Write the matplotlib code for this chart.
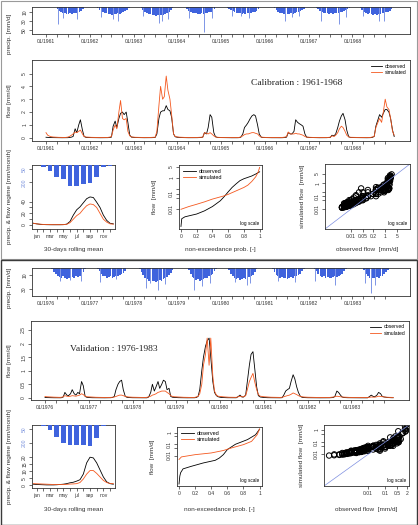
import numpy as np
import pandas as pd
import matplotlib
matplotlib.use('Agg')
import matplotlib.pyplot as plt
import matplotlib.dates as mdates
from matplotlib.patches import Rectangle

plt.rcParams['font.family'] = ['Liberation Sans', 'DejaVu Sans']

# ---------------- data ----------------
# semi-monthly flows [mm/d], 24 values per year (1st and 15th of each month)
q_obs_cal = [
    0.04, 0.03, 0.02, 0.015, 0.012, 0.01, 0.008, 0.006, 0.005, 0.004, 0.004, 0.005, 0.008, 0.02, 0.05, 0.1, 0.7, 0.4, 1.0, 1.4, 0.6, 0.1, 0.03, 0.02,  # 1961
    0.015, 0.012, 0.01, 0.008, 0.006, 0.005, 0.004, 0.004, 0.005, 0.006, 0.01, 0.02, 0.05, 0.9, 1.3, 0.8, 1.5, 1.9, 2.0, 1.8, 2.0, 1.2, 0.2, 0.05,  # 1962
    0.03, 0.02, 0.015, 0.012, 0.01, 0.008, 0.006, 0.005, 0.005, 0.006, 0.01, 0.015, 0.03, 0.3, 1.5, 2.0, 2.1, 2.1, 2.5, 2.2, 2.1, 1.6, 0.3, 0.08,  # 1963
    0.04, 0.03, 0.02, 0.015, 0.01, 0.008, 0.006, 0.005, 0.004, 0.004, 0.005, 0.008, 0.01, 0.02, 0.05, 0.4, 0.3, 0.8, 1.8, 1.6, 0.4, 0.08, 0.03, 0.02,  # 1964
    0.015, 0.012, 0.01, 0.008, 0.006, 0.005, 0.004, 0.003, 0.003, 0.004, 0.01, 0.05, 0.3, 0.8, 1.0, 1.2, 1.5, 1.7, 1.8, 1.7, 1.0, 0.3, 0.05, 0.02,  # 1965
    0.015, 0.01, 0.008, 0.006, 0.005, 0.004, 0.003, 0.003, 0.003, 0.004, 0.008, 0.02, 0.05, 0.4, 0.3, 0.3, 0.5, 1.4, 1.2, 1.1, 1.0, 0.9, 0.3, 0.05,  # 1966
    0.03, 0.02, 0.015, 0.01, 0.008, 0.006, 0.005, 0.004, 0.004, 0.005, 0.008, 0.015, 0.03, 0.2, 0.15, 0.3, 0.8, 1.3, 1.7, 1.9, 1.4, 0.6, 0.08, 0.03,  # 1967
    0.02, 0.015, 0.012, 0.01, 0.008, 0.006, 0.005, 0.004, 0.004, 0.005, 0.01, 0.03, 0.1, 0.9, 1.4, 1.8, 1.6, 1.9, 2.2, 2.2, 2.0, 1.5, 0.6, 0.1,  # 1968
]
q_sim_cal = [
    0.4, 0.2, 0.12, 0.08, 0.06, 0.05, 0.04, 0.035, 0.03, 0.028, 0.026, 0.03, 0.05, 0.1, 0.2, 0.3, 0.45, 0.4, 0.5, 0.6, 0.3, 0.1, 0.06, 0.05,
    0.04, 0.035, 0.03, 0.028, 0.025, 0.022, 0.02, 0.02, 0.02, 0.022, 0.03, 0.05, 0.1, 0.6, 1.0, 0.7, 2.0, 2.9, 1.5, 1.4, 1.5, 0.5, 0.15, 0.07,
    0.05, 0.04, 0.035, 0.03, 0.028, 0.025, 0.022, 0.02, 0.02, 0.022, 0.03, 0.04, 0.05, 0.5, 2.5, 4.0, 3.0, 3.2, 4.8, 3.7, 3.0, 1.8, 0.3, 0.1,
    0.07, 0.05, 0.04, 0.035, 0.03, 0.025, 0.022, 0.02, 0.018, 0.018, 0.02, 0.025, 0.03, 0.04, 0.05, 0.4, 0.35, 0.3, 0.4, 0.3, 0.15, 0.07, 0.04, 0.03,
    0.025, 0.022, 0.02, 0.018, 0.016, 0.015, 0.014, 0.013, 0.013, 0.015, 0.03, 0.08, 0.15, 0.25, 0.3, 0.3, 0.35, 0.4, 0.4, 0.35, 0.3, 0.15, 0.06, 0.04,
    0.03, 0.025, 0.022, 0.02, 0.018, 0.016, 0.015, 0.014, 0.014, 0.015, 0.03, 0.05, 0.1, 0.45, 0.3, 0.3, 0.3, 0.35, 0.3, 0.3, 0.25, 0.2, 0.1, 0.05,
    0.04, 0.035, 0.03, 0.025, 0.022, 0.02, 0.018, 0.016, 0.015, 0.016, 0.02, 0.03, 0.05, 0.15, 0.1, 0.2, 0.4, 0.7, 0.9, 0.8, 0.5, 0.2, 0.07, 0.04,
    0.035, 0.03, 0.025, 0.022, 0.02, 0.018, 0.016, 0.015, 0.015, 0.016, 0.03, 0.06, 0.1, 0.8, 1.2, 1.5, 1.2, 2.0, 3.0, 2.4, 2.2, 1.5, 0.5, 0.2,
]
q_obs_val = [
    0.01, 0.008, 0.006, 0.005, 0.004, 0.003, 0.002, 0.0015, 0.001, 0.0015, 0.03, 0.2, 0.1, 0.08, 0.15, 0.3, 0.15, 0.1, 0.2, 0.15, 0.6, 0.45, 0.05, 0.02,  # 1976
    0.01, 0.006, 0.004, 0.003, 0.002, 0.0015, 0.001, 0.0008, 0.0006, 0.0005, 0.001, 0.002, 0.004, 0.01, 0.05, 0.3, 0.5, 0.6, 0.65, 0.3, 0.05, 0.02, 0.01, 0.006,  # 1977
    0.004, 0.003, 0.002, 0.0015, 0.001, 0.0008, 0.0006, 0.0005, 0.001, 0.03, 0.2, 0.5, 0.25, 0.4, 0.6, 0.35, 0.5, 0.65, 0.6, 0.3, 0.35, 0.05, 0.02, 0.015,  # 1978
    0.01, 0.006, 0.004, 0.003, 0.002, 0.0015, 0.001, 0.0008, 0.0005, 0.0003, 0.002, 0.01, 0.05, 0.3, 1.0, 1.5, 1.9, 2.1, 2.2, 1.5, 0.6, 0.2, 0.08, 0.04,  # 1979
    0.02, 0.012, 0.008, 0.005, 0.004, 0.003, 0.002, 0.0015, 0.001, 0.002, 0.05, 0.1, 0.03, 0.03, 0.1, 0.6, 1.2, 1.6, 1.7, 1.1, 0.4, 0.08, 0.03, 0.02,  # 1980
    0.012, 0.008, 0.005, 0.004, 0.003, 0.002, 0.0015, 0.001, 0.0008, 0.001, 0.005, 0.1, 0.25, 0.3, 0.35, 0.6, 0.85, 0.7, 0.4, 0.2, 0.05, 0.02, 0.01, 0.006,  # 1981
    0.004, 0.003, 0.002, 0.0015, 0.001, 0.0008, 0.0005, 0.0004, 0.0003, 0.0002, 0.0001, 0.0005, 0.002, 0.005, 0.01, 0.05, 0.25, 0.2, 0.1, 0.03, 0.01, 0.006, 0.004, 0.003,  # 1982
    0.002, 0.0015, 0.001, 0.0008, 0.0006, 0.0004, 0.0003, 0.0002, 0.0001, 0.00005, 0.05, 0.1, 0.05, 0.04, 0.1, 0.2, 0.15, 0.05, 0.03, 0.02, 0.01, 0.006, 0.004, 0.003,  # 1983
]
q_sim_val = [
    0.05, 0.04, 0.035, 0.03, 0.028, 0.025, 0.022, 0.02, 0.018, 0.02, 0.04, 0.08, 0.06, 0.05, 0.06, 0.08, 0.07, 0.06, 0.08, 0.1, 0.15, 0.12, 0.06, 0.04,
    0.035, 0.03, 0.025, 0.022, 0.02, 0.018, 0.016, 0.015, 0.014, 0.013, 0.013, 0.014, 0.016, 0.02, 0.03, 0.05, 0.08, 0.1, 0.1, 0.08, 0.05, 0.04, 0.03, 0.025,
    0.022, 0.02, 0.018, 0.016, 0.015, 0.014, 0.013, 0.012, 0.02, 0.04, 0.06, 0.1, 0.12, 0.15, 0.2, 0.22, 0.25, 0.25, 0.25, 0.2, 0.15, 0.08, 0.05, 0.04,
    0.035, 0.03, 0.025, 0.022, 0.02, 0.018, 0.016, 0.015, 0.014, 0.013, 0.015, 0.03, 0.06, 0.15, 0.5, 1.2, 1.6, 2.2, 1.2, 2.2, 0.8, 0.25, 0.1, 0.06,
    0.05, 0.04, 0.035, 0.03, 0.025, 0.022, 0.02, 0.018, 0.016, 0.018, 0.04, 0.06, 0.04, 0.04, 0.08, 0.3, 0.6, 0.75, 0.9, 0.6, 0.3, 0.12, 0.06, 0.05,
    0.04, 0.035, 0.03, 0.025, 0.022, 0.02, 0.018, 0.016, 0.015, 0.015, 0.02, 0.04, 0.06, 0.08, 0.1, 0.13, 0.18, 0.15, 0.12, 0.08, 0.05, 0.04, 0.03, 0.025,
    0.022, 0.02, 0.018, 0.016, 0.015, 0.014, 0.013, 0.012, 0.011, 0.01, 0.01, 0.011, 0.013, 0.02, 0.03, 0.04, 0.06, 0.05, 0.04, 0.03, 0.025, 0.02, 0.018, 0.016,
    0.015, 0.014, 0.013, 0.012, 0.011, 0.01, 0.0095, 0.009, 0.0085, 0.008, 0.02, 0.03, 0.025, 0.025, 0.04, 0.06, 0.05, 0.04, 0.03, 0.025, 0.02, 0.018, 0.016, 0.015,
]

# semi-monthly typical daily precipitation [mm/d]
p_cal = [
    0, 0, 0, 0, 0, 1, 4, 8, 11, 13, 12, 14, 15, 13, 14, 12, 13, 11, 10, 8, 5, 1, 0, 0,
    0, 0, 0, 0, 2, 6, 9, 11, 13, 12, 14, 15, 16, 14, 15, 13, 14, 12, 11, 9, 6, 2, 0, 0,
    0, 0, 0, 0, 3, 7, 10, 13, 15, 14, 17, 18, 19, 17, 18, 16, 17, 15, 13, 11, 7, 3, 0, 0,
    0, 0, 0, 0, 0, 4, 8, 10, 12, 13, 12, 14, 15, 13, 14, 13, 12, 11, 10, 8, 5, 1, 0, 0,
    0, 0, 1, 3, 5, 7, 9, 11, 12, 13, 12, 14, 13, 14, 12, 13, 12, 11, 10, 8, 5, 1, 0, 0,
    0, 0, 0, 0, 0, 3, 7, 10, 12, 13, 14, 13, 15, 14, 13, 14, 12, 11, 10, 9, 7, 4, 0, 0,
    0, 0, 0, 0, 2, 5, 9, 11, 12, 13, 12, 14, 13, 14, 12, 13, 12, 11, 10, 9, 7, 5, 2, 0,
    0, 0, 0, 0, 2, 6, 10, 12, 14, 13, 15, 16, 15, 16, 14, 15, 13, 12, 11, 10, 8, 4, 0, 0,
]
p_val = [
    0, 0, 0, 2, 6, 9, 11, 13, 14, 12, 15, 16, 14, 15, 13, 14, 12, 13, 11, 9, 6, 2, 0, 0,
    0, 0, 0, 0, 1, 5, 9, 11, 12, 14, 13, 12, 14, 13, 12, 11, 10, 9, 7, 4, 0, 0, 0, 0,
    0, 0, 0, 1, 6, 10, 14, 16, 18, 17, 19, 18, 20, 18, 17, 18, 16, 15, 13, 10, 7, 3, 0, 0,
    0, 0, 0, 0, 0, 0, 3, 9, 13, 15, 17, 16, 18, 17, 16, 15, 14, 12, 10, 8, 5, 1, 0, 0,
    0, 0, 0, 0, 3, 8, 12, 14, 16, 15, 17, 16, 15, 16, 14, 13, 12, 10, 6, 2, 0, 0, 0, 0,
    0, 0, 0, 0, 1, 6, 10, 12, 14, 13, 15, 14, 16, 14, 13, 14, 12, 11, 10, 8, 5, 2, 0, 0,
    0, 0, 0, 1, 5, 9, 11, 13, 12, 14, 13, 15, 14, 13, 12, 13, 11, 10, 8, 5, 2, 0, 0, 0,
    0, 0, 0, 0, 0, 0, 3, 9, 12, 14, 13, 15, 14, 13, 15, 12, 11, 9, 6, 3, 0, 0, 0, 0,
]

# largest daily events [mm/d]
spike_cal_dates = ['1961-04-09', '1961-05-19', '1961-09-20', '1962-04-05', '1962-07-13', '1962-08-22',
                   '1963-03-18', '1963-08-04', '1963-08-29', '1963-10-12', '1964-04-09', '1964-08-11',
                   '1964-10-19', '1965-04-05', '1965-06-13', '1965-08-22', '1966-06-18', '1966-08-19',
                   '1966-10-16', '1967-04-13', '1967-09-13', '1967-11-06', '1968-03-26', '1968-08-11',
                   '1968-09-20']
spike_cal_mm = [36, 24, 26, 22, 26, 30, 19, 35, 30, 26, 24, 54, 24, 19, 20, 24, 30, 22, 19, 30, 36, 21, 19, 29, 30]
spike_val_dates = ['1976-04-27', '1976-07-20', '1976-10-19', '1977-03-26', '1977-08-11', '1978-04-13',
                   '1978-05-16', '1978-07-27', '1978-09-20', '1979-05-22', '1979-07-23', '1979-10-01',
                   '1980-04-27', '1980-08-07', '1980-08-29', '1981-04-20', '1981-09-06', '1982-02-20',
                   '1982-08-07', '1983-04-13', '1983-06-03', '1983-07-06']
spike_val_mm = [19, 17, 18, 20, 16, 28, 22, 31, 23, 31, 26, 21, 20, 24, 21, 19, 20, 18, 24, 21, 36, 24]

# monthly precipitation regime [mm/month], jan..dec
reg_p_cal = [2, 20, 69, 134, 161, 237, 237, 222, 211, 134, 20, 8]
reg_p_val = [2, 12, 57, 133, 200, 220, 227, 227, 235, 151, 12, 3]
# flow regime [mm/month], 30-day rolling mean, every half month from 1 Jan
reg_q_obs_cal = [3, 2, 1.2, 0.8, 0.6, 0.5, 0.5, 0.5, 0.5, 0.6, 1.5, 6, 17, 26, 31, 38, 45, 48, 47, 39, 30, 17, 8, 3, 2]
reg_q_sim_cal = [3, 2, 1.5, 1, 0.8, 0.7, 0.6, 0.6, 0.6, 0.7, 1.2, 4, 10, 16, 20, 27, 33, 36, 35, 30, 20, 10, 5, 2, 1.5]
reg_q_obs_val = [0.8, 0.6, 0.5, 0.4, 0.3, 0.3, 0.3, 0.4, 0.6, 0.8, 1.2, 1.8, 2.2, 3, 4, 8, 16, 20, 19.5, 16, 11, 6, 2.5, 1.2, 0.8]
reg_q_sim_val = [1.2, 1.1, 1, 0.9, 0.8, 0.7, 0.6, 0.6, 0.6, 0.6, 0.7, 0.9, 1.0, 1.2, 2, 4.5, 8, 10.5, 10.5, 8.5, 6, 3.5, 2, 1.3, 1.2]
month_labels = ['jan', '', 'mar', '', 'may', '', 'jul', '', 'sep', '', 'nov', '']

# flow duration curves
fdc_p_obs_cal = [0, 0.01, 0.05, 0.1, 0.2, 0.3, 0.4, 0.5, 0.55, 0.6, 0.65, 0.7, 0.75, 0.8, 0.85, 0.9, 0.95, 1.0]
fdc_q_obs_cal = [0.0008, 0.0025, 0.0033, 0.0038, 0.005, 0.008, 0.015, 0.035, 0.065, 0.13, 0.25, 0.42, 0.68, 0.9, 1.1, 1.35, 1.8, 2.5]
fdc_p_sim_cal = [0, 0.1, 0.2, 0.3, 0.4, 0.5, 0.55, 0.6, 0.7, 0.8, 0.85, 0.9, 0.95, 0.98, 1.0]
fdc_q_sim_cal = [0.01, 0.015, 0.021, 0.03, 0.045, 0.062, 0.073, 0.09, 0.15, 0.25, 0.35, 0.6, 1.2, 2.3, 4.8]
fdc_p_obs_val = [0, 0.01, 0.02, 0.05, 0.15, 0.3, 0.45, 0.5, 0.55, 0.6, 0.7, 0.85, 0.95, 1.0]
fdc_q_obs_val = [3e-5, 1.5e-4, 3e-4, 6.6e-4, 0.0011, 0.0022, 0.0038, 0.006, 0.012, 0.034, 0.1, 0.26, 0.7, 2.2]
fdc_p_sim_val = [0, 0.03, 0.2, 0.4, 0.55, 0.65, 0.8, 0.9, 0.97, 1.0]
fdc_q_sim_val = [0.0045, 0.0076, 0.012, 0.017, 0.028, 0.047, 0.093, 0.18, 0.7, 2.3]

# ---------------- layout helpers ----------------
W, H = 418, 525
fig = plt.figure(figsize=(W / 100, H / 100), dpi=100)
BLUE = '#3f63dd'
SIMC = '#f4581f'
FS_TICK = 3.6
FS_LAB = 4.6


def rect(x0, y0, x1, y1):
    return [x0 / W, 1 - y1 / H, (x1 - x0) / W, (y1 - y0) / H]


def r_style(ax):
    for s in ax.spines.values():
        s.set_linewidth(0.6)
        s.set_color('#333333')
    ax.tick_params(direction='out', length=2, width=0.5, labelsize=FS_TICK, pad=1.5, colors='#333333')


def rot_y(ax):
    for lab in ax.get_yticklabels():
        lab.set_rotation(90)
        lab.set_va('center')


def ylab(ax, text, x_px, box, fs=FS_LAB, y_px=None):
    ax.set_ylabel(text, fontsize=fs, color='#333333')
    if y_px is None:
        y_px = (box[1] + box[3]) / 2
    ax.yaxis.set_label_coords((x_px - box[0]) / (box[2] - box[0]),
                              (box[3] - y_px) / (box[3] - box[1]))


def xlab(ax, text, y_px, box, fs=FS_LAB):
    ax.set_xlabel(text, fontsize=fs, color='#333333')
    ax.xaxis.set_label_coords(0.5, -(y_px - box[3]) / (box[3] - box[1]))


def time_axis(ax, dates, ticks_q):
    t0 = mdates.date2num(dates[0])
    t1 = mdates.date2num(dates[-1]) + 15
    pad = 0.04 * (t1 - t0)
    ax.set_xlim(t0 - pad, t1 + pad)
    ax.set_xticks(mdates.date2num(ticks_q))
    ax.set_xticklabels([d.strftime('%m/%Y') if d.month == 1 else '' for d in ticks_q])


def half(first, last, q_obs, q_sim, p, sp_dates, sp_mm, p_max, p_ticks, p_lab_y,
         q_ylim, q_ticks, q_ticklabels, title, title_xy,
         reg_p, reg_obs, reg_sim, reg_ylim, reg_ticks, reg_labels, reg_pmax,
         fdc, fdc_ylim, fdc_ticks, fdc_labels, sc_lim, sc_xt, sc_xl, sc_yt, sc_yl, boxes):
    dates = pd.date_range(first, periods=len(q_obs), freq='SMS')
    ticks_q = pd.date_range(first, last, freq='QS')
    dn = mdates.date2num(dates)

    # precipitation series
    b = boxes['p']
    ax = fig.add_axes(rect(*b))
    ax.bar(dn, p, width=14, align='edge', color=BLUE, linewidth=0)
    ax.vlines(mdates.date2num(pd.to_datetime(sp_dates)), 0, sp_mm, color='#7d95e6', lw=0.7)
    ax.set_ylim(p_max, 0)
    ax.set_yticks(p_ticks)
    time_axis(ax, dates, ticks_q)
    r_style(ax)
    rot_y(ax)
    ylab(ax, 'precip. [mm/d]', 12, b, y_px=p_lab_y)

    # flow series
    b = boxes['q']
    ax = fig.add_axes(rect(*b))
    ax.plot(dn, q_obs, color='black', lw=0.6, label='observed')
    ax.plot(dn, q_sim, color=SIMC, lw=0.6, label='simulated')
    ax.set_ylim(*q_ylim)
    ax.set_yticks(q_ticks)
    ax.set_yticklabels(q_ticklabels)
    time_axis(ax, dates, ticks_q)
    r_style(ax)
    rot_y(ax)
    ylab(ax, 'flow [mm/d]', 12, b)
    ax.legend(loc='upper right', fontsize=3.6, frameon=False, handlelength=2.2,
              handletextpad=0.6, labelspacing=0.25, borderaxespad=0.3)
    ax.text(title_xy[0], title_xy[1], title, transform=ax.transAxes, fontsize=6.8,
            family=['Liberation Serif', 'DejaVu Serif'], ha='center', va='center', color='#222222')

    # regime
    b = boxes['r']
    ax = fig.add_axes(rect(*b))
    months = np.arange(12)
    reg_x = np.arange(len(reg_obs)) * 0.5 - 0.5
    ax.plot(reg_x, reg_obs, color='black', lw=0.6)
    ax.plot(reg_x, reg_sim, color=SIMC, lw=0.6)
    ax.set_xlim(-0.7, 11.75)
    ax.set_ylim(*reg_ylim)
    ax.set_yticks(reg_ticks)
    ax.set_yticklabels(reg_labels)
    ax.set_xticks(months)
    ax.set_xticklabels(month_labels)
    r_style(ax)
    rot_y(ax)
    axp = fig.add_axes(rect(*b), frameon=False, sharex=ax)
    axp.bar(months, reg_p, width=0.72, color=BLUE, linewidth=0)
    axp.set_ylim(reg_pmax, 0)
    axp.set_yticks([50, 200])
    axp.tick_params(axis='x', bottom=False, labelbottom=False)
    axp.tick_params(axis='y', direction='out', length=2, width=0.5, labelsize=FS_TICK, pad=1.5,
                    colors='#333333', labelcolor='#7b93dd')
    rot_y(axp)
    axp.set_xlim(-0.7, 11.75)
    ylab(ax, 'precip. & flow regime [mm/month]', 12, b)
    xlab(ax, '30-days rolling mean', boxes['xl'], b)

    # flow duration curve
    b = boxes['f']
    ax = fig.add_axes(rect(*b))
    ax.plot(fdc[0], fdc[1], color='black', lw=0.6, label='observed')
    ax.plot(fdc[2], fdc[3], color=SIMC, lw=0.6, label='simulated')
    ax.set_yscale('log')
    ax.set_ylim(*fdc_ylim)
    ax.set_xlim(-0.025, 1.03)
    ax.set_xticks([0, 0.2, 0.4, 0.6, 0.8, 1])
    ax.set_xticklabels(['0', '0.2', '0.4', '0.6', '0.8', '1'])
    ax.set_yticks(fdc_ticks)
    ax.set_yticklabels(fdc_labels)
    ax.yaxis.set_minor_locator(matplotlib.ticker.NullLocator())
    r_style(ax)
    rot_y(ax)
    ax.legend(loc='upper left', fontsize=4, frameon=False, handlelength=2.3,
              handletextpad=0.6, labelspacing=0.2, borderaxespad=0.3)
    ax.text(0.97, 0.05, 'log scale', transform=ax.transAxes, fontsize=3.4, ha='right', va='bottom')
    ylab(ax, 'flow  [mm/d]', b[0] - 22, b)
    xlab(ax, 'non-exceedance prob. [-]', boxes['xl'], b)

    # scatter
    b = boxes['s']
    ax = fig.add_axes(rect(*b))
    ax.scatter(q_obs, q_sim, s=15, facecolors='none', edgecolors='black', linewidths=0.7)
    ax.plot(sc_lim, sc_lim, color='#7d8ee0', lw=0.5)
    ax.set_xscale('log')
    ax.set_yscale('log')
    ax.set_xlim(*sc_lim)
    ax.set_ylim(*sc_lim)
    ax.set_xticks(sc_xt)
    ax.set_xticklabels(sc_xl)
    ax.set_yticks(sc_yt)
    ax.set_yticklabels(sc_yl)
    ax.xaxis.set_minor_locator(matplotlib.ticker.NullLocator())
    ax.yaxis.set_minor_locator(matplotlib.ticker.NullLocator())
    r_style(ax)
    rot_y(ax)
    ax.text(0.97, 0.05, 'log scale', transform=ax.transAxes, fontsize=3.4, ha='right', va='bottom')
    ylab(ax, 'simulated flow  [mm/d]', b[0] - 20, b)
    xlab(ax, 'observed flow  [mm/d]', boxes['xl'], b)


half('1961-01-01', '1968-12-31', q_obs_cal, q_sim_cal, p_cal, spike_cal_dates, spike_cal_mm,
     57.5, [10, 30, 50], 34, (-0.25, 6.05), [0, 1, 2, 3, 4, 5], ['0', '1', '2', '3', '4', '5'],
     'Calibration : 1961-1968', (0.7, 0.72),
     reg_p_cal, reg_q_obs_cal, reg_q_sim_cal, (-6.8, 102.6), [0, 10, 20, 30, 40], ['0', '', '20', '', '40'], 735,
     (fdc_p_obs_cal, fdc_q_obs_cal, fdc_p_sim_cal, fdc_q_sim_cal), (5.5e-4, 6.8),
     [0.01, 0.05, 0.1, 0.2, 1, 5], ['0.01', '', '0.1', '', '1', '5'],
     (3e-4, 30), [0.01, 0.05, 0.2, 1, 5], ['0.01', '0.05', '0.2', '1', '5'],
     [0.01, 0.05, 0.1, 0.2, 1, 5], ['0.01', '', '0.1', '', '1', '5'],
     {'p': (32, 7, 410, 34), 'q': (32, 60, 410, 141), 'r': (32, 165, 115, 229),
      'f': (179, 165, 262, 229), 's': (325, 164, 410, 229), 'xl': 247})

half('1976-01-01', '1983-12-31', q_obs_val, q_sim_val, p_val, spike_val_dates, spike_val_mm,
     40, [10, 30], 288, (-0.08, 2.83), [0, 0.5, 1, 1.5, 2, 2.5], ['0', '0.5', '1', '1.5', '2', '2.5'],
     'Validation : 1976-1983', (0.22, 0.64),
     reg_p_val, reg_q_obs_val, reg_q_sim_val, (-1.9, 42.9), [0, 5, 10, 15, 20], ['0', '5', '10', '15', '20'], 705,
     (fdc_p_obs_val, fdc_q_obs_val, fdc_p_sim_val, fdc_q_sim_val), (2e-5, 3.4),
     [0.01, 0.05, 0.1, 0.5, 1], ['0.01', '', '0.1', '', '1'],
     (2.5e-5, 2.6), [0.01, 0.1, 0.5, 2], ['0.01', '0.1', '0.5', '2'],
     [0.01, 0.05, 0.1, 0.5, 1], ['0.01', '', '0.1', '', '1'],
     {'p': (32, 268, 410, 296), 'q': (31, 321, 409, 400), 'r': (32, 425, 115, 488),
      'f': (177, 427, 262, 486), 's': (324, 425, 409, 486), 'xl': 507})

# frames around the two halves
fig.patches.append(Rectangle((0.5 / W, 1 - 259 / H), 416.5 / W, 258.5 / H, transform=fig.transFigure,
                             fill=False, edgecolor='#9a9a9a', lw=0.8))
fig.patches.append(Rectangle((0.5 / W, 1 - 524.5 / H), 416.5 / W, 264.5 / H, transform=fig.transFigure,
                             fill=False, edgecolor='#3a3a3a', lw=1.0))

fig.savefig('out.png', dpi=100)
